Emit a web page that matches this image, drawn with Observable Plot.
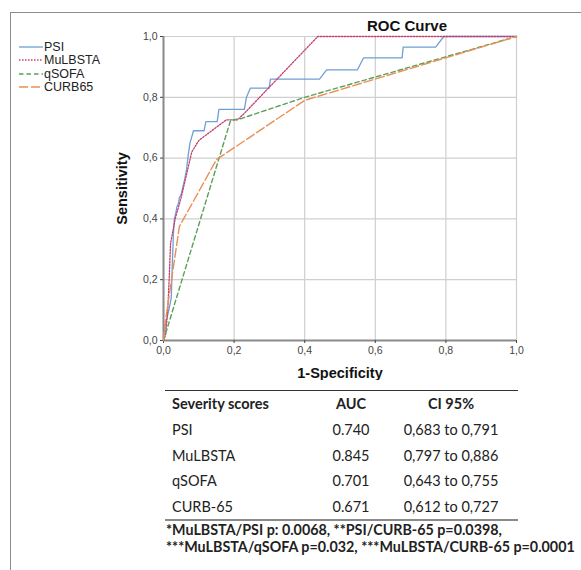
<!DOCTYPE html>
<html><head><meta charset="utf-8">
<script src="https://cdn.jsdelivr.net/npm/d3@7"></script>
<script src="https://cdn.jsdelivr.net/npm/@observablehq/plot@0.6"></script>
<style>
body{margin:0;background:#fff;}
#wrap{position:relative;width:581px;height:570px;overflow:hidden;font-family:Arial,"Liberation Sans",sans-serif;background:#fff;}
#frame{position:absolute;left:10px;top:12px;width:600px;height:600px;border-left:1.5px solid #8c8c8c;border-top:1.5px solid #8c8c8c;}
#chart{position:absolute;left:0;top:0;}
.t{position:absolute;white-space:nowrap;line-height:1;}
.lg{position:absolute;left:19px;height:14px;display:flex;align-items:center;font-size:12.5px;color:#222;}
.tb{font-family:Lato,"Open Sans",sans-serif;font-size:14.5px;color:#222;}
</style></head><body>
<div id="wrap">
  <div id="frame"></div>
  <div id="chart"></div>
  <div id="legend"></div>
  <div id="title" class="t" style="left:347px;top:18px;width:120px;text-align:center;font-weight:bold;font-size:15px;color:#111;">ROC Curve</div>
  <div id="table"></div>
</div>
<script>
// ---- data ----
const seriesNames = ["PSI", "MuLBSTA", "qSOFA", "CURB65"];
const psiFpr = [0, 0.005, 0.015, 0.022, 0.025, 0.028, 0.031, 0.035, 0.038, 0.042, 0.045, 0.05, 0.054, 0.06, 0.065, 0.07, 0.075, 0.08, 0.085, 0.115, 0.12, 0.152, 0.157, 0.229, 0.235, 0.246, 0.299, 0.303, 0.442, 0.462, 0.549, 0.567, 0.676, 0.679, 0.771, 0.794, 1];
const psiTpr = [0, 0.05, 0.10, 0.14, 0.25, 0.35, 0.40, 0.42, 0.44, 0.45, 0.47, 0.48, 0.50, 0.53, 0.56, 0.61, 0.65, 0.67, 0.69, 0.69, 0.72, 0.72, 0.76, 0.76, 0.80, 0.83, 0.83, 0.86, 0.86, 0.89, 0.89, 0.93, 0.93, 0.965, 0.965, 1, 1];
const mulbstaFpr = [0, 0.006, 0.012, 0.016, 0.02, 0.025, 0.033, 0.05, 0.068, 0.08, 0.1, 0.178, 0.21, 0.228, 0.437, 1];
const mulbstaTpr = [0, 0.02, 0.10, 0.20, 0.32, 0.35, 0.40, 0.47, 0.56, 0.62, 0.658, 0.726, 0.726, 0.746, 1, 1];
const qsofaFpr = [0, 0.19, 0.22, 0.40, 1];
const qsofaTpr = [0, 0.724, 0.73, 0.80, 1];
const curbFpr = [0, 0.005, 0.045, 0.15, 0.40, 1];
const curbTpr = [0, 0.06, 0.375, 0.595, 0.79, 1];
const axisTicks = [0, 0.2, 0.4, 0.6, 0.8, 1.0];
const xLabel = "1-Specificity";
const yLabel = "Sensitivity";

const tableHeaders = ["Severity scores", "AUC", "CI 95%"];
const scoreNames = ["PSI", "MuLBSTA", "qSOFA", "CURB-65"];
const aucValues = ["0.740", "0.845", "0.701", "0.671"];
const ciValues = ["0,683 to 0,791", "0,797 to 0,886", "0,643 to 0,755", "0,612 to 0,727"];
const footnotes = ["*MuLBSTA/PSI p: 0.0068, **PSI/CURB-65 p=0.0398,", "***MuLBSTA/qSOFA p=0.032, ***MuLBSTA/CURB-65 p=0.0001"];

// ---- styles ----
const styles = {
  PSI: {stroke: "#6f9fd6", dash: null, width: 1.3},
  MuLBSTA: {stroke: "#c4406f", dash: "1.5,1.5", width: 1.3},
  qSOFA: {stroke: "#5e9e5a", dash: "4.5,3", width: 1.4},
  CURB65: {stroke: "#ea8f55", dash: "9,3", width: 1.4}
};

const zip = (xs, ys) => xs.map((x, i) => ({fpr: x, tpr: ys[i]}));
const seriesData = {
  PSI: zip(psiFpr, psiTpr),
  MuLBSTA: zip(mulbstaFpr, mulbstaTpr),
  qSOFA: zip(qsofaFpr, qsofaTpr),
  CURB65: zip(curbFpr, curbTpr)
};
const fmt = d => d.toFixed(1).replace(".", ",");

const plot = Plot.plot({
  width: 581,
  height: 380,
  marginLeft: 163,
  marginRight: 65,
  marginTop: 36,
  marginBottom: 40,
  style: {fontFamily: "Arial, 'Liberation Sans', sans-serif", fontSize: "10.5px", color: "#444", background: "transparent"},
  x: {domain: [0, 1]},
  y: {domain: [0, 1]},
  marks: [
    Plot.gridX(axisTicks, {stroke: "#cfcfcf", strokeOpacity: 1, strokeWidth: 1.2}),
    Plot.gridY(axisTicks, {stroke: "#cfcfcf", strokeOpacity: 1, strokeWidth: 1.2}),
    Plot.ruleX([0], {stroke: "#8a8a8a", strokeWidth: 2}),
    Plot.ruleY([0], {stroke: "#8a8a8a", strokeWidth: 2}),
    Plot.axisX({ticks: axisTicks, tickFormat: fmt, tickSize: 3, tickPadding: 3, label: xLabel, labelAnchor: "center", labelArrow: "none", labelOffset: 37}),
    Plot.axisY({ticks: axisTicks, tickFormat: fmt, tickSize: 3, tickPadding: 3, label: yLabel, labelAnchor: "center", labelArrow: "none", labelOffset: 47}),
    ...seriesNames.map(n => Plot.line(seriesData[n], {
      x: "fpr", y: "tpr",
      stroke: styles[n].stroke,
      strokeWidth: styles[n].width,
      strokeDasharray: styles[n].dash
    }))
  ]
});
document.getElementById("chart").appendChild(plot);
d3.select(plot).selectAll('[aria-label="x-axis label"] text, [aria-label="y-axis label"] text')
  .style("font-weight", "bold").style("font-size", "14.5px").style("fill", "#111");

// ---- legend ----
const legend = document.getElementById("legend");
const legendTops = [40, 53, 66.5, 80];
seriesNames.forEach((n, i) => {
  const row = document.createElement("div");
  row.className = "lg";
  row.style.top = legendTops[i] + "px";
  const s = styles[n];
  row.innerHTML = `<svg width="24" height="14" style="margin-right:1px"><line x1="0" x2="24" y1="7" y2="7" stroke="${s.stroke}" stroke-width="1.3" ${s.dash ? `stroke-dasharray="${s.dash}"` : ""}/></svg><span>${n}</span>`;
  legend.appendChild(row);
});

// ---- table ----
const table = document.getElementById("table");
function addText(txt, left, top, opts = {}) {
  const d = document.createElement("div");
  d.className = "t tb";
  d.textContent = txt;
  d.style.top = top + "px";
  if (opts.center != null) { d.style.left = (opts.center - 100) + "px"; d.style.width = "200px"; d.style.textAlign = "center"; }
  else d.style.left = left + "px";
  if (opts.bold) d.style.fontWeight = "bold";
  if (opts.size) d.style.fontSize = opts.size + "px";
  table.appendChild(d);
  return d;
}
function addRule(top, h, color) {
  const d = document.createElement("div");
  d.style.cssText = `position:absolute;left:165px;width:353px;top:${top}px;height:${h}px;background:${color};`;
  table.appendChild(d);
}
addRule(389.5, 1.2, "#333");
const rowTops = [404, 430, 456, 481.5, 507.5];
addText(tableHeaders[0], 172, rowTops[0] - 7.5, {bold: true});
addText(tableHeaders[1], 0, rowTops[0] - 7.5, {bold: true, center: 351});
addText(tableHeaders[2], 0, rowTops[0] - 7.5, {bold: true, center: 451});
scoreNames.forEach((n, i) => {
  addText(n, 172, rowTops[i + 1] - 7.5);
  addText(aucValues[i], 0, rowTops[i + 1] - 7.5, {center: 351});
  addText(ciValues[i], 0, rowTops[i + 1] - 7.5, {center: 451});
});
addRule(519, 2.2, "#8a8a8a");
addText(footnotes[0], 166, 522.5, {bold: true, size: 14.3});
addText(footnotes[1], 166, 539.5, {bold: true, size: 14.3});
</script>
</body></html>
